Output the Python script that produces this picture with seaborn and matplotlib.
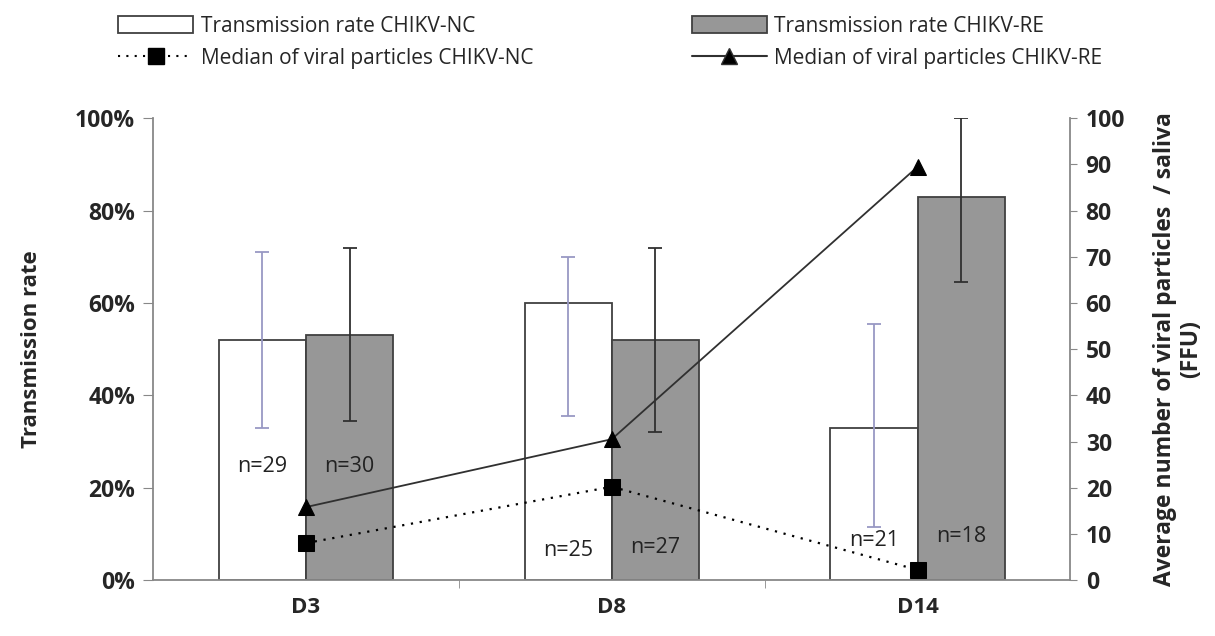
import numpy as np
import pandas as pd
import matplotlib
matplotlib.use("Agg")
import matplotlib.pyplot as plt
import seaborn as sns
from matplotlib.patches import Patch
from matplotlib.lines import Line2D

# ── Data ───────────────────────────────────────────
days      = ["D3", "D8", "D14"]
strains   = ["CHIKV-NC", "CHIKV-RE"]
rate_nc   = [0.52, 0.60, 0.33]
rate_re   = [0.53, 0.52, 0.83]
nc_low    = [0.33, 0.355, 0.115]
nc_high   = [0.71, 0.70, 0.555]
re_low    = [0.345, 0.32, 0.645]
re_high   = [0.72, 0.72, 1.00]
med_nc    = [8.0, 20.2, 2.2]
med_re    = [15.8, 30.5, 89.5]
n_nc      = [29, 25, 21]
n_re      = [30, 27, 18]
n_nc_y    = [0.245, 0.065, 0.085]
n_re_y    = [0.245, 0.07, 0.095]

sns.set_style("white")
plt.rcParams["font.family"] = ["Open Sans", "DejaVu Sans"]

df = pd.DataFrame({
    "day":    days * 2,
    "strain": [strains[0]] * 3 + [strains[1]] * 3,
    "rate":   rate_nc + rate_re,
})

fig = plt.figure(figsize=(12.15, 6.36), dpi=100)
ax = fig.add_axes([0.126, 0.088, 0.755, 0.726])

sns.barplot(data=df, x="day", y="rate", hue="strain", order=days,
            hue_order=strains, palette=["white", "#979797"],
            edgecolor="#404040", linewidth=1.3, width=0.57, gap=0,
            errorbar=None, legend=False, ax=ax)

# ── Error bars (asymmetric) ────────────────────────
bars = [p for p in ax.patches if p.get_height() > 0]
bars = sorted(bars, key=lambda p: p.get_x())
lows  = [nc_low, re_low]
highs = [nc_high, re_high]
vals  = [rate_nc, rate_re]
ecols = ["#9898c4", "#303030"]
for p in bars:
    cx = p.get_x() + p.get_width() / 2
    i = int(round(cx))
    s = 0 if cx < i else 1
    v = vals[s][i]
    ax.errorbar(cx, v, yerr=[[v - lows[s][i]], [highs[s][i] - v]],
                fmt="none", ecolor=ecols[s], elinewidth=1.3,
                capsize=5, capthick=1.3, zorder=4)
    lab = n_nc[i] if s == 0 else n_re[i]
    ny = n_nc_y[i] if s == 0 else n_re_y[i]
    ax.text(cx, ny, f"n={lab}", ha="center", va="center",
            fontsize=15.5, color="#222222", zorder=5)

ax.set_xlim(-0.5, 2.5)
ax.set_ylim(0, 1.0)
ax.set_yticks(np.arange(0, 1.01, 0.2))
ax.set_yticklabels([f"{int(round(t*100))}%" for t in np.arange(0, 1.01, 0.2)],
                   fontsize=16.5, fontweight="bold")
ax.set_xticks([0, 1, 2])
ax.set_xticklabels(days, fontsize=16, fontweight="bold")
ax.set_xticks([0.5, 1.5], minor=True)
ax.tick_params(axis="x", which="major", length=0, pad=12)
ax.tick_params(axis="x", which="minor", length=6, color="#888888",
               direction="out", bottom=True)
ax.tick_params(axis="y", length=7, color="#888888", direction="out",
               left=True, pad=6)
ax.set_xlabel("")
ax.set_ylabel("Transmission rate", fontsize=16, fontweight="bold",
              labelpad=24)
for sp in ["top", "right"]:
    ax.spines[sp].set_visible(False)
for sp in ["left", "bottom"]:
    ax.spines[sp].set_color("#888888")
    ax.spines[sp].set_linewidth(1.3)

# ── Median viral particles (right axis) ────────────
ax2 = ax.twinx()
xs = np.arange(len(days))
sns.lineplot(x=xs, y=med_nc, ax=ax2, color="black", linestyle=(0, (1, 3)),
             linewidth=1.6, marker="s", markersize=11, markeredgecolor="black",
             zorder=6)
sns.lineplot(x=xs, y=med_re, ax=ax2, color="#303030", linestyle="-",
             linewidth=1.3, marker="^", markersize=12, markerfacecolor="black",
             markeredgecolor="black", zorder=6)
ax2.set_ylim(0, 100)
ax2.set_yticks(np.arange(0, 101, 10))
ax2.set_yticklabels([str(t) for t in range(0, 101, 10)], fontsize=16.5,
                    fontweight="bold")
ax2.tick_params(axis="y", length=5, color="#888888", direction="out",
                right=True, pad=6)
ax2.set_ylabel("Average number of viral particles  / saliva\n(FFU)",
               fontsize=16.5, fontweight="bold", labelpad=20, linespacing=1.1)
for sp in ["top", "left", "bottom"]:
    ax2.spines[sp].set_visible(False)
ax2.spines["right"].set_color("#888888")
ax2.spines["right"].set_linewidth(1.3)
ax2.set_xlim(-0.5, 2.5)

# ── Legend ─────────────────────────────────────────
handles = [
    Patch(facecolor="white", edgecolor="#404040", linewidth=1.3,
          label="Transmission rate CHIKV-NC"),
    Line2D([], [], color="black", linestyle=(0, (1, 3)), marker="s",
           markersize=11, label="Median of viral particles CHIKV-NC"),
    Patch(facecolor="#979797", edgecolor="#404040", linewidth=1.3,
          label="Transmission rate CHIKV-RE"),
    Line2D([], [], color="#303030", linestyle="-", marker="^",
           markersize=12, markerfacecolor="black",
           label="Median of viral particles CHIKV-RE"),
]
fig.legend(handles=handles, ncol=2, loc="upper left",
           bbox_to_anchor=(0.082, 1.005), frameon=False, fontsize=15,
           handlelength=3.6, handleheight=0.9, handletextpad=0.35,
           columnspacing=7.6, labelspacing=0.55)

fig.savefig("out.png", dpi=100)
